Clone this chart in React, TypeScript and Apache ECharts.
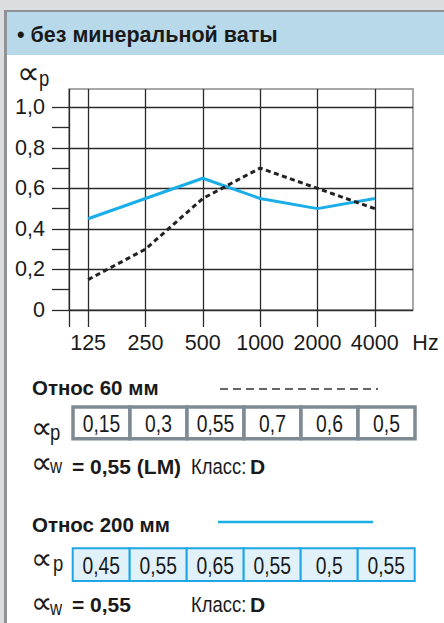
import React, { useEffect, useRef } from "react";
import * as echarts from "echarts";

// ---- data ----
const frequencies = ["125", "250", "500", "1000", "2000", "4000"];
const alpha60 = [0.15, 0.3, 0.55, 0.7, 0.6, 0.5];
const alpha200 = [0.45, 0.55, 0.65, 0.55, 0.5, 0.55];
const yMajorTicks = [0, 0.2, 0.4, 0.6, 0.8, 1.0];
const yMinorTicks = [0.1, 0.3, 0.5, 0.7, 0.9];
const unitLabel = "Hz";
const titleText = "• без минеральной ваты";
const label60 = "Относ 60 мм";
const label200 = "Относ 200 мм";
const alphaW60 = "= 0,55 (LM)";
const alphaW200 = "= 0,55";
const class60 = "D";
const class200 = "D";
const classLabel = "Класс:";

// layout helpers (x axis: 3 sub-slots per octave band)
const slot = (i: number) => 3 * i + 1;
const X_MAX = 18;
const fmt = (v: number) => (v === 0 ? "0" : String(v).replace(".", ","));

const SANS = "'Liberation Sans', Arial, sans-serif";
const SYM = "'DejaVu Sans', sans-serif";
const BLUE = "#19aee8";
const DARK = "#2a2a2a";
const NARROW_SCALE = 0.84;

function txt(x: number, y: number, text: string, opts: any = {}) {
  const size = opts.size ?? 20;
  const weight = opts.weight ?? "normal";
  const family = opts.family ?? SANS;
  const align = opts.align ?? "left";
  return {
    type: "text",
    x,
    y,
    z: 10,
    scaleX: opts.scaleX ?? 1,
    style: {
      text,
      fill: opts.color ?? "#1a1a1a",
      fontSize: size,
      fontWeight: weight,
      fontFamily: family,
      align,
      textAlign: align,
      verticalAlign: "middle",
      textVerticalAlign: "middle",
    },
  };
}

export default function App() {
  const ref = useRef<HTMLDivElement>(null);

  useEffect(() => {
    if (!ref.current) return;
    const chart = echarts.init(ref.current, null, { renderer: "svg" });

    const graphics: any[] = [];
    // frame
    graphics.push({ type: "rect", z: 1, shape: { x: 0, y: 0, width: 444, height: 10 }, style: { fill: "#dcdddf" } });
    graphics.push({ type: "rect", z: 1, shape: { x: 0, y: 0, width: 4, height: 623 }, style: { fill: "#dcdddf" } });
    graphics.push({ type: "rect", z: 1, shape: { x: 4, y: 10, width: 440, height: 2 }, style: { fill: "#8e9398" } });
    graphics.push({ type: "rect", z: 1, shape: { x: 4, y: 10, width: 3, height: 613 }, style: { fill: "#8e9398" } });
    graphics.push({ type: "rect", z: 1, shape: { x: 7, y: 12, width: 437, height: 43 }, style: { fill: "#b8d9ea" } });
    graphics.push(txt(17, 34.5, titleText, { weight: "bold", size: 21.5 }));

    const N = NARROW_SCALE;
    // alpha_p axis name
    graphics.push(txt(17, 73, "∝", { family: SYM, size: 32 }));
    graphics.push(txt(39, 78.5, "p", { size: 22, scaleX: N }));

    // block 1 (60 mm)
    graphics.push(txt(32, 387, label60, { weight: "bold", size: 20.5 }));
    graphics.push({
      type: "line", z: 10,
      shape: { x1: 220, y1: 389, x2: 378, y2: 389 },
      style: { stroke: "#333", lineWidth: 1.6, lineDash: [8, 5] },
    });
    graphics.push(txt(31, 427, "∝", { family: SYM, size: 30 }));
    graphics.push(txt(50, 432, "p", { size: 22, scaleX: N }));
    const cw = 57;
    alpha60.forEach((v, i) => {
      graphics.push({
        type: "rect", z: 5,
        shape: { x: 73 + cw * i, y: 407, width: cw, height: 31.7 },
        style: { fill: "#ffffff", stroke: "#7f8b94", lineWidth: 3.5 },
      });
      graphics.push(txt(73 + cw * (i + 0.5), 424, fmt(v), { size: 23, align: "center", scaleX: N }));
    });
    graphics.push(txt(31, 462.5, "∝", { family: SYM, size: 30 }));
    graphics.push(txt(50, 466, "w", { size: 20, scaleX: N }));
    graphics.push(txt(72, 466, alphaW60, { weight: "bold", size: 21 }));
    graphics.push(txt(191, 466, classLabel, { size: 22, scaleX: N }));
    graphics.push(txt(250, 466, class60, { weight: "bold", size: 21 }));

    // block 2 (200 mm)
    graphics.push(txt(32, 524.7, label200, { weight: "bold", size: 20.5 }));
    graphics.push({
      type: "line", z: 10,
      shape: { x1: 218, y1: 522, x2: 373, y2: 522 },
      style: { stroke: BLUE, lineWidth: 2.5 },
    });
    graphics.push(txt(31, 558, "∝", { family: SYM, size: 30 }));
    graphics.push(txt(53, 563.4, "p", { size: 22, scaleX: N }));
    alpha200.forEach((v, i) => {
      graphics.push({
        type: "rect", z: 5,
        shape: { x: 72.7 + cw * i, y: 548.3, width: cw, height: 32.7 },
        style: { fill: "#e1f1fa", stroke: "#1ea7e4", lineWidth: 2 },
      });
      graphics.push(txt(72.7 + cw * (i + 0.5), 565.7, fmt(v), { size: 23, align: "center", scaleX: N }));
    });
    graphics.push(txt(31, 602.5, "∝", { family: SYM, size: 30 }));
    graphics.push(txt(50, 608, "w", { size: 20, scaleX: N }));
    graphics.push(txt(72, 604.7, alphaW200, { weight: "bold", size: 21 }));
    graphics.push(txt(191, 604.7, classLabel, { size: 22, scaleX: N }));
    graphics.push(txt(250, 604.7, class200, { weight: "bold", size: 21 }));

    const xLabelValues = [...frequencies.map((_, i) => slot(i)), X_MAX];
    const xTickValues = [0, ...frequencies.map((_, i) => slot(i))];

    chart.setOption({
      animation: false,
      backgroundColor: "#ffffff",
      grid: {
        left: 69,
        top: 89,
        right: 31,
        bottom: 313,
        show: true,
        borderColor: "#8a8a8a",
        borderWidth: 1.5,
        backgroundColor: "transparent",
        containLabel: false,
      },
      xAxis: {
        type: "value",
        min: 0,
        max: X_MAX,
        axisLine: { show: false },
        axisTick: {
          show: true,
          inside: false,
          length: 17,
          customValues: xTickValues,
          lineStyle: { color: DARK, width: 1.3 },
        },
        splitLine: { show: true, lineStyle: { color: DARK, width: 1.3 } },
        axisLabel: {
          customValues: xLabelValues,
          showMaxLabel: true,
          showMinLabel: true,
          margin: 22,
          color: "#1a1a1a",
          fontFamily: SANS,
          fontSize: 21.5,
          formatter: (v: number) => {
            if (Math.abs(v - X_MAX) < 0.01) return "{hz|" + unitLabel + "}";
            const idx = Math.round((v - 1) / 3);
            return frequencies[idx] ?? "";
          },
          rich: {
            hz: { fontFamily: SANS, fontSize: 21.5, color: "#1a1a1a", padding: [0, 0, 0, 25] },
          },
        },
      },
      yAxis: [
        {
          type: "value",
          min: 0,
          max: 1.09,
          axisLine: { show: false },
          axisTick: {
            show: true,
            inside: false,
            length: 17,
            customValues: yMajorTicks,
            lineStyle: { color: DARK, width: 1.3 },
          },
          splitLine: { show: true, lineStyle: { color: DARK, width: 1.3 } },
          axisLabel: {
            customValues: yMajorTicks,
            margin: 24,
            color: "#1a1a1a",
            fontFamily: SANS,
            fontSize: 21.5,
            formatter: (v: number) => fmt(Math.round(v * 10) / 10).replace(/^1$/, "1,0"),
          },
        },
        {
          type: "value",
          min: 0,
          max: 1.09,
          position: "left",
          axisLine: { show: false },
          axisTick: {
            show: true,
            inside: false,
            length: 17,
            customValues: yMinorTicks,
            lineStyle: { color: DARK, width: 1.3 },
          },
          splitLine: { show: false },
          axisLabel: { show: false },
        },
      ],
      series: [
        {
          type: "line",
          name: label200,
          data: alpha200.map((v, i) => [slot(i), v]),
          symbol: "none",
          lineStyle: { color: BLUE, width: 3 },
          z: 3,
        },
        {
          type: "line",
          name: label60,
          data: alpha60.map((v, i) => [slot(i), v]),
          symbol: "none",
          lineStyle: { color: "#222222", width: 3, type: [5, 3.5] },
          z: 4,
        },
      ],
      graphic: { elements: graphics },
    });

    return () => chart.dispose();
  }, []);

  return (
    <div
      ref={ref}
      style={{ position: "absolute", left: 0, top: 0, width: 444, height: 623 }}
    />
  );
}
